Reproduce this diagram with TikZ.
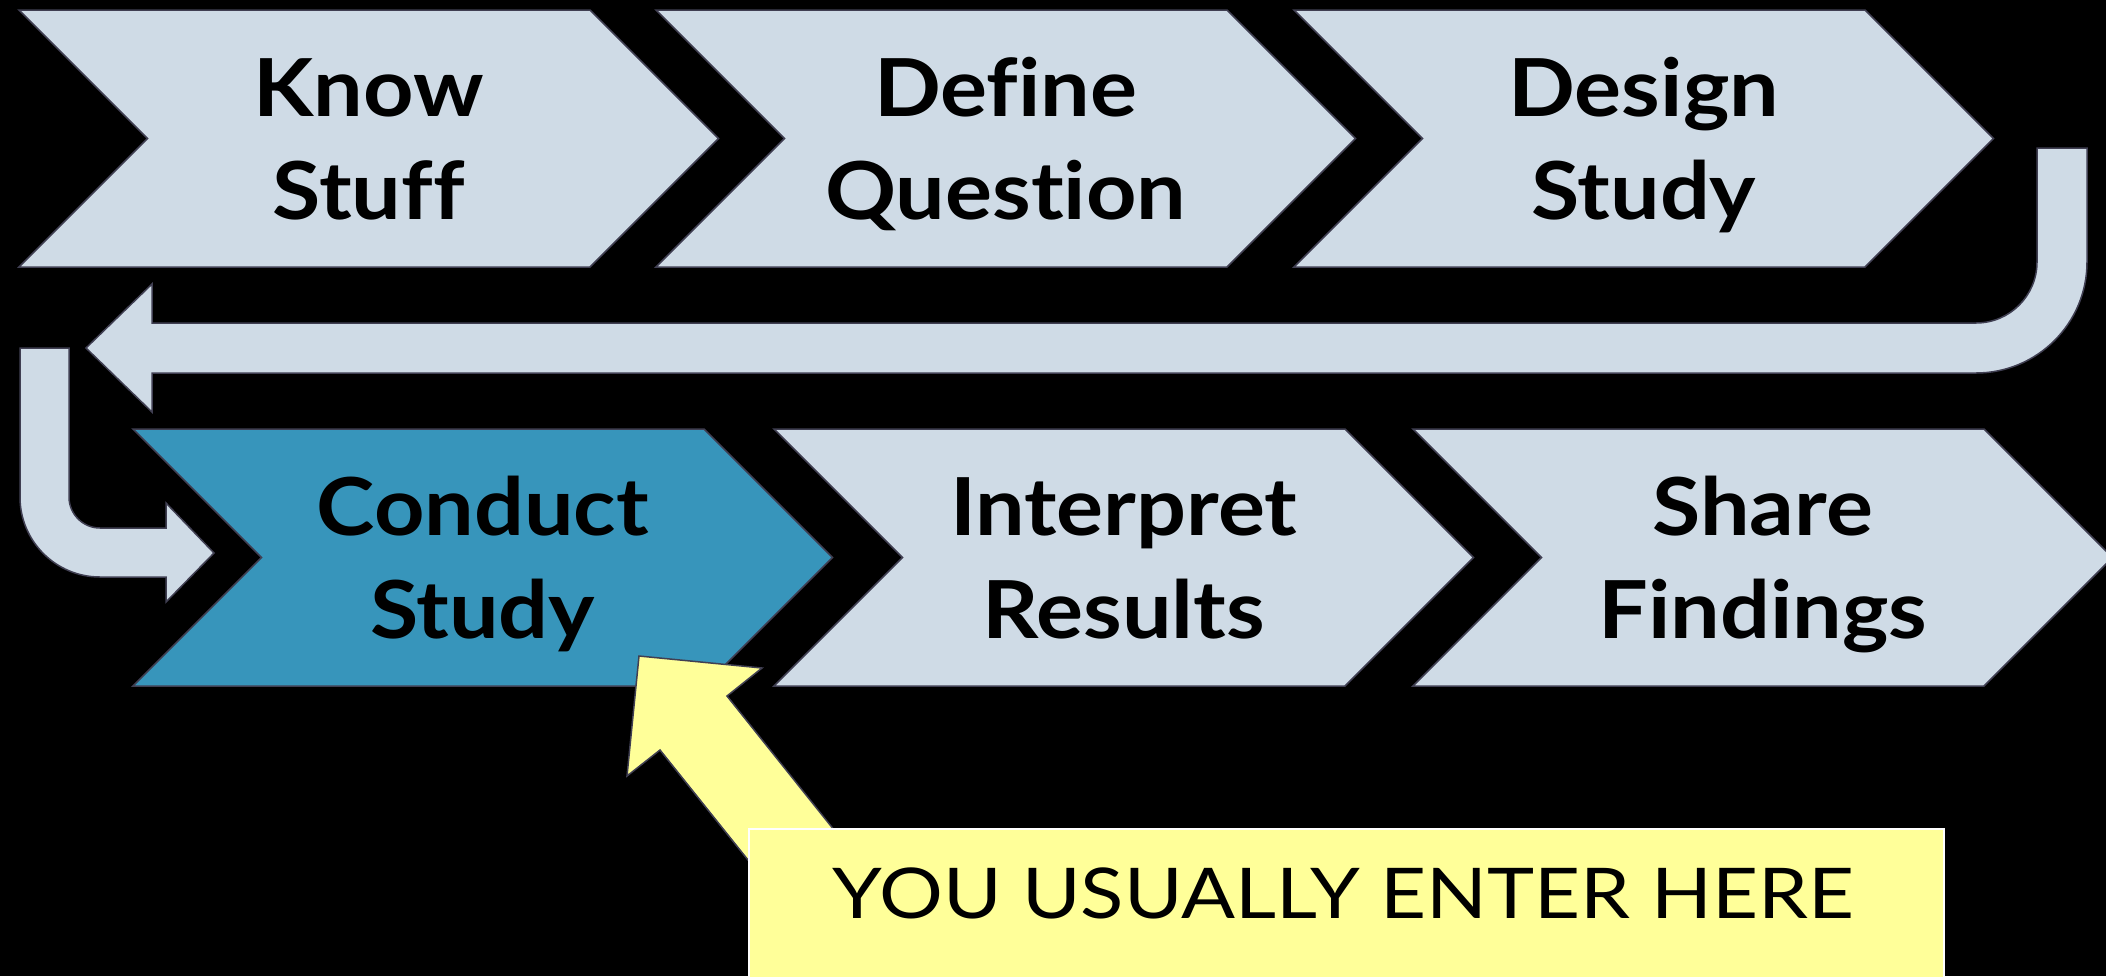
\documentclass[tikz,border=0pt]{standalone}
\usepackage{fontspec}
\setmainfont{Lato}
\newfontfamily\stepfont{Lato}[FakeStretch=1.1,Ligatures=NoCommon]
\newfontfamily\notefont{Lato}[FakeStretch=1.14,Ligatures=NoCommon]
\definecolor{steplight}{HTML}{CFDBE6}
\definecolor{stepactive}{HTML}{3795BB}
\definecolor{stepedge}{HTML}{403F52}
\definecolor{noteyellow}{HTML}{FFFF99}

% chevron: #1 name, #2 left x, #3 top y, #4 fill style, #5 label
\newcommand\chevronstep[5]{%
  \draw[#4] (#2,#3) -- ++(571,0) -- ++(128.5,128.5) -- ++(-128.5,128.5)
    -- ++(-571,0) -- ++(128.5,-128.5) -- cycle;
  \node[steplabel] (#1) at ({#2+349.75},{#3+157.5}) {#5};
}
\newcommand\twolines[2]{\smash{#1}\\\smash{#2}}

\begin{document}
\begin{tikzpicture}[x=0.5pt,y=-0.5pt,
  lightstep/.style={fill=steplight,draw=stepedge,line width=0.75pt},
  activestep/.style={fill=stepactive,draw=stepedge,line width=0.75pt},
  blockarrow/.style={fill=steplight,draw=stepedge,line width=0.75pt},
  callout/.style={fill=noteyellow,draw=stepedge,line width=0.75pt},
  steplabel/.style={inner sep=0pt,align=center,
    font=\stepfont\fontsize{40}{51.5}\selectfont\bfseries},
  notetext/.style={inner sep=0pt,anchor=base,
    font=\notefont\fontsize{35}{42}\selectfont}]

\useasboundingbox (0,0) rectangle (2106,976);
\clip (0,0) rectangle (2106,976);
\fill[black] (0,0) rectangle (2106,976);

% top row
\chevronstep{know}{19}{10}{lightstep}{\twolines{Know}{Stuff}}
\chevronstep{define}{656}{10}{lightstep}{\twolines{Define}{Question}}
\chevronstep{design}{1294}{10}{lightstep}{\twolines{Design}{Study}}

% bottom row
\chevronstep{conduct}{133}{429}{activestep}{\twolines{Conduct}{Study}}
\chevronstep{interpret}{774}{429}{lightstep}{\twolines{Interpret}{Results}}
\chevronstep{share}{1413}{429}{lightstep}{\twolines{Share}{Findings}}

% return arrow from the end of the top row back to the left
\draw[blockarrow] (2037,148) -- (2087,148) -- (2087,262)
  .. controls (2087,323.3) and (2037.3,373) .. (1976,373)
  -- (152,373) -- (152,412) -- (86,348) -- (152,284) -- (152,323)
  -- (1976,323)
  .. controls (2009.7,323) and (2037,295.7) .. (2037,262) -- cycle;

% turn arrow leading into the bottom row
\draw[blockarrow] (20,348) -- (69,348) -- (69,497)
  .. controls (69,514.1) and (82.9,528) .. (100,528)
  -- (166,528) -- (166,503) -- (214,553) -- (166,602) -- (166,577)
  -- (100,577)
  .. controls (55.8,577) and (20,541.2) .. (20,497) -- cycle;

% callout arrow and box
\draw[callout] (639,656) -- (762,668) -- (727,696) -- (890,900)
  -- (780,900) -- (660,750) -- (627,776) -- cycle;
\draw[fill=noteyellow,draw=white,line width=0.75pt] (749,829) rectangle (1944,990);
\node[notetext] (enter) at (1343,918) {YOU USUALLY ENTER HERE};
\end{tikzpicture}
\end{document}
